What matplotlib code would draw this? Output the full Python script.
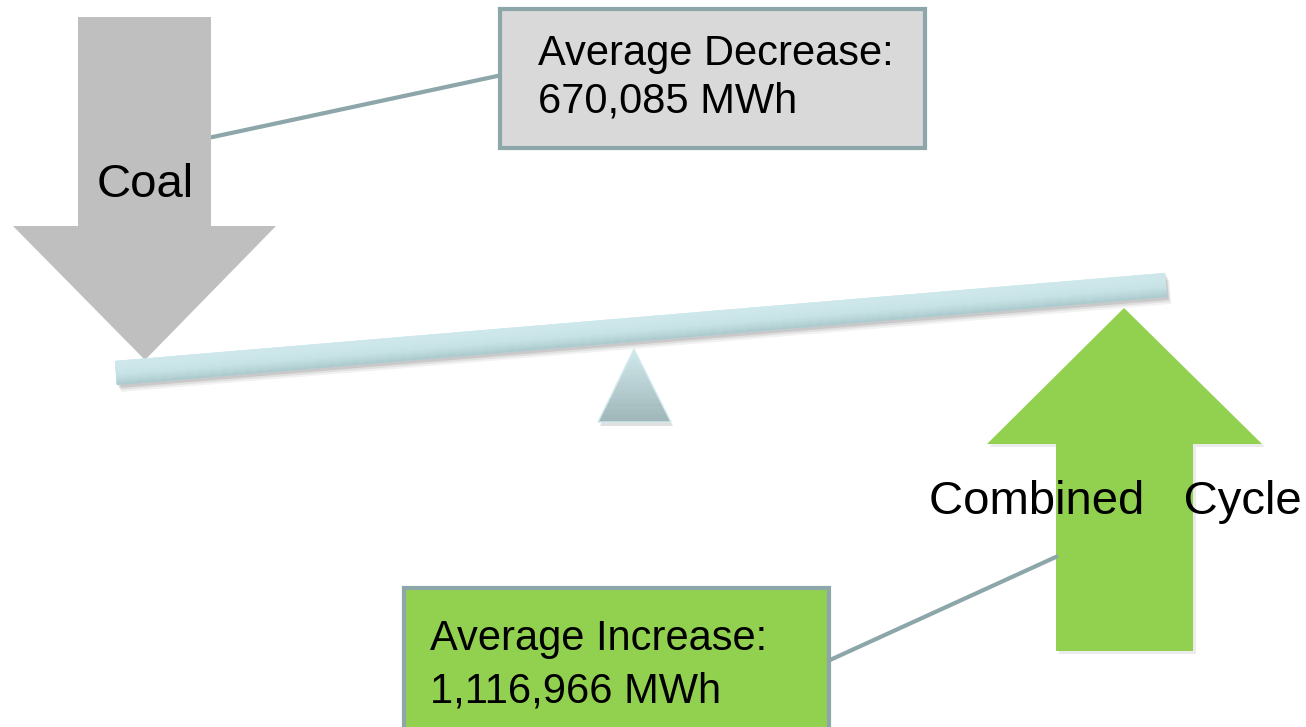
import numpy as np
import matplotlib
matplotlib.use("Agg")
import matplotlib.pyplot as plt
from matplotlib.patches import Polygon, Rectangle
from matplotlib.colors import LinearSegmentedColormap

# ---- data ----
sources = ["Coal", "Combined   Cycle"]
changes_mwh = [670085, 1116966]
change_titles = ["Average Decrease:", "Average Increase:"]

plt.rcParams['font.family'] = ['Liberation Sans', 'DejaVu Sans']

W, H = 1306, 727
fig = plt.figure(figsize=(W / 100, H / 100), dpi=100)
ax = fig.add_axes([0, 0, 1, 1])
ax.set_xlim(0, W)
ax.set_ylim(H, 0)
ax.axis('off')

GREY = '#BFBFBF'
GREEN = '#92D050'
EDGE = '#8CA6A9'
BOXGREY = '#D9D9D9'

# ---- coal arrow (down) ----
coal = [(78, 17), (211, 17), (211, 226), (276, 226), (145, 360), (13, 226), (78, 226)]
ax.add_patch(Polygon(coal, closed=True, fc=GREY, ec='none', zorder=2))
ax.text(145, 197, sources[0], fontsize=34, ha='center', va='baseline', zorder=5)

# ---- green arrow (up) ----
green = [(1056, 651), (1056, 444), (987, 444), (1124, 308), (1262, 444), (1193, 444), (1193, 651)]
# soft shadow
ax.add_patch(Polygon([(x + 3, y + 3) for x, y in green], closed=True, fc='#000000', alpha=0.08, ec='none', zorder=1))
ax.add_patch(Polygon(green, closed=True, fc=GREEN, ec='none', zorder=2))
ax.text(1115, 514, sources[1], fontsize=34, ha='center', va='baseline', zorder=5)

# ---- beam ----
p0 = np.array([116.0, 373.0])
p1 = np.array([1166.0, 285.0])
d = (p1 - p0) / np.linalg.norm(p1 - p0)
n = np.array([-d[1], d[0]])  # points downward-ish
if n[1] < 0:
    n = -n
half = 12.0
beam = [p0 - n * half, p1 - n * half, p1 + n * half, p0 + n * half]
for k, a in [(7, 0.05), (5, 0.07), (3, 0.10)]:
    ax.add_patch(Polygon([(x + k * 0.6, y + k) for x, y in beam], closed=True,
                         fc='#000000', alpha=a, ec='none', zorder=3))
beam_patch = Polygon(beam, closed=True, fc='#CCE6E9', ec='none', zorder=4)
ax.add_patch(beam_patch)
cmap_b = LinearSegmentedColormap.from_list('b', ['#D2EBEE', '#C6E2E5', '#A9C7CA'])
grad = np.linspace(0, 1, 64).reshape(-1, 1)
im = ax.imshow(grad, cmap=cmap_b, extent=(100, 1180, 390, 265), aspect='auto',
               origin='lower', zorder=4.1, interpolation='bilinear')
im.set_clip_path(beam_patch)
# per-column gradient approximation: rotate via mesh
ax.set_xlim(0, W)
ax.set_ylim(H, 0)
im.remove()
# draw gradient bands across beam thickness
nb = 24
for i in range(nb):
    t0, t1 = i / nb, (i + 1) / nb
    a0 = -half + 2 * half * t0
    a1 = -half + 2 * half * t1
    band = [p0 + n * a0, p1 + n * a0, p1 + n * a1, p0 + n * a1]
    col = cmap_b(0.15 + 0.85 * (t0 ** 1.6))
    ax.add_patch(Polygon(band, closed=True, fc=col, ec=col, lw=0.3, zorder=4.2))

# ---- fulcrum ----
tri = [(634, 349), (671, 422), (598, 422)]
ax.add_patch(Polygon([(x + 2, y + 4) for x, y in tri], closed=True, fc='#000000', alpha=0.12, ec='none', zorder=3))
cmap_t = LinearSegmentedColormap.from_list('t', ['#D0E9EC', '#9FB6B9'])
ntb = 30
for i in range(ntb):
    y0 = 349 + (422 - 349) * i / ntb
    y1 = 349 + (422 - 349) * (i + 1) / ntb
    f0 = (y0 - 349) / 73.0
    f1 = (y1 - 349) / 73.0
    band = [(634 - 36 * f0, y0), (634 + 37 * f0, y0), (634 + 37 * f1, y1), (634 - 36 * f1, y1)]
    col = cmap_t(i / (ntb - 1))
    ax.add_patch(Polygon(band, closed=True, fc=col, ec=col, lw=0.3, zorder=4))
ax.add_patch(Polygon(tri, closed=True, fc='none', ec='#D6ECEE', lw=1.0, zorder=4.5))

# ---- connectors ----
ax.plot([208, 502], [138, 75], color=EDGE, lw=3, solid_capstyle='butt', zorder=1.5)
ax.plot([830, 1058], [660, 556], color=EDGE, lw=3, solid_capstyle='butt', zorder=2.5)

# ---- boxes ----
ax.add_patch(Rectangle((500, 9), 425, 139, fc=BOXGREY, ec=EDGE, lw=3, zorder=6))
ax.text(538, 65, change_titles[0], fontsize=30, ha='left', va='baseline', zorder=7)
ax.text(538, 113, f"{changes_mwh[0]:,} MWh", fontsize=30, ha='left', va='baseline', zorder=7)

ax.add_patch(Rectangle((404, 588), 425, 160, fc=GREEN, ec=EDGE, lw=3, zorder=6))
ax.text(430, 650, change_titles[1], fontsize=30, ha='left', va='baseline', zorder=7)
ax.text(430, 702, f"{changes_mwh[1]:,} MWh", fontsize=30, ha='left', va='baseline', zorder=7)

fig.savefig('out.png', dpi=100)
